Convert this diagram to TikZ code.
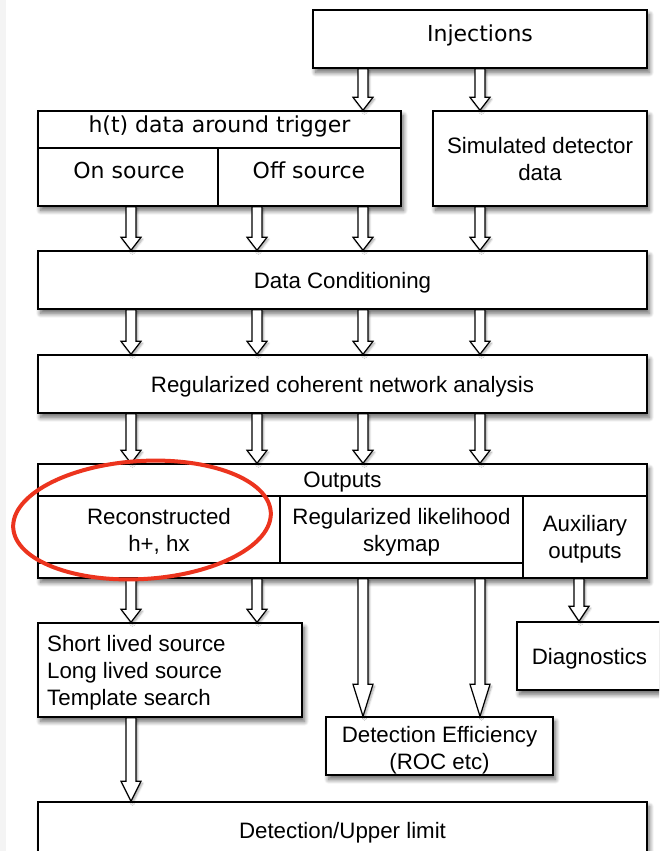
\documentclass[tikz,border=0pt]{standalone}
\usepackage{fontspec}
\setmainfont{Liberation Sans}
\newfontfamily\hira{DejaVu Sans}
\usetikzlibrary{calc,shadows.blur}
\definecolor{ellred}{RGB}{236,52,30}
\definecolor{stripgray}{RGB}{244,244,244}
\begin{document}
\begin{tikzpicture}[x=1pt,y=-1pt,
 shd/.style={blur shadow={shadow xshift=2.5pt,shadow yshift=-4.5pt,shadow blur radius=4.5pt,shadow blur steps=12,shadow opacity=60}},
 ashd/.style={blur shadow={shadow xshift=1.5pt,shadow yshift=-2pt,shadow blur radius=2pt,shadow blur steps=6,shadow opacity=35}},
 box/.style={draw=black,line width=1.4pt,fill=white,inner sep=0pt,align=center,text depth=0pt,font=\fontsize{22.3}{27}\selectfont},
 txt/.style={inner sep=0pt,align=center,text depth=0pt,font=\fontsize{22.3}{27}\selectfont},
 htxt/.style={inner sep=0pt,text depth=0pt,font=\hira\fontsize{22}{27}\selectfont},
 blk/.style={draw=black,line width=1.2pt,fill=white,ashd,
   to path={let \p1=(\tikztostart),\p2=(\tikztotarget) in
     (\x1-5pt,\y1) -- (\x1-5pt,\y2+#1) -- (\x1-10pt,\y2+#1) -- (\x1,\y2) -- (\x1+10pt,\y2+#1) -- (\x1+5pt,\y2+#1) -- (\x1+5pt,\y1) -- cycle}},
 blk/.default=13pt,
]
\useasboundingbox (0,0) rectangle (659,851);
\clip (0,0) rectangle (659,851);
\fill[stripgray] (0,0) rectangle (6,851);

\coordinate (c1) at (131,0);
\coordinate (c2) at (257,0);
\coordinate (c3) at (363,0);
\coordinate (c4) at (480,0);
\coordinate (c5) at (579,0);

% top boxes
\node[box,shd,minimum width=334pt,minimum height=58pt] (inj) at (480,39) {};
\node[htxt] (injt) at (480,33) {Injections};

\node[box,shd,minimum width=363pt,minimum height=95pt] (ht) at (219.5,158.5) {};
\node[box,minimum width=180pt,minimum height=58pt] (on) at (128,177) {};
\node[box,minimum width=183pt,minimum height=58pt] (off) at (309.5,177) {};
\node[htxt] (htt) at (219.5,124) {h(t) data around trigger};
\node[htxt] (ont) at (129,170) {On source};
\node[htxt] (offt) at (309,170) {Off source};

\node[box,shd,minimum width=214pt,minimum height=95pt] (sim) at (540,158.5) {Simulated detector\\data};

\node[box,shd,minimum width=609pt,minimum height=58pt] (dc) at (342.5,280) {Data Conditioning};
\node[box,shd,minimum width=609pt,minimum height=58pt] (rcna) at (342.5,384) {Regularized coherent network analysis};

% outputs
\node[box,shd,minimum width=609pt,minimum height=114pt] (out) at (342.5,521) {};
\node[txt] (outt) at (342.5,480) {Outputs};
\node[box,minimum width=242pt,minimum height=67pt] (rec) at (159,529.5) {Reconstructed\\h+, hx};
\node[box,minimum width=243pt,minimum height=67pt] (reg) at (401.5,529.5) {Regularized likelihood\\skymap};
\node[box,minimum width=124pt,minimum height=82pt] (aux) at (585,537) {Auxiliary\\outputs};

% lower boxes
\node[box,shd,minimum width=264pt,minimum height=94pt] (sls) at (170,670) {};
\node[txt,align=left,anchor=west] (slst) at (47,670.5) {Short lived source\\Long lived source\\Template search};
\node[box,shd,minimum width=145pt,minimum height=68pt] (diag) at (589.5,656) {Diagnostics};
\node[box,shd,minimum width=227pt,minimum height=58pt] (deff) at (439.5,746) {};
\node[txt] (defft) at (439.5,747.5) {Detection Efficiency\\(ROC etc)};
\node[box,shd,minimum width=609pt,minimum height=56pt] (dul) at (342.5,830) {Detection/Upper limit};

% arrows
\draw[blk] (inj.south -| c3) to (ht.north -| c3);
\draw[blk] (inj.south -| c4) to (sim.north -| c4);

\draw[blk] (on.south -| c1) to (dc.north -| c1);
\draw[blk] (off.south -| c2) to (dc.north -| c2);
\draw[blk] (off.south -| c3) to (dc.north -| c3);
\draw[blk] (sim.south -| c4) to (dc.north -| c4);

\draw[blk] (dc.south -| c1) to (rcna.north -| c1);
\draw[blk] (dc.south -| c2) to (rcna.north -| c2);
\draw[blk] (dc.south -| c3) to (rcna.north -| c3);
\draw[blk] (dc.south -| c4) to (rcna.north -| c4);

\draw[blk] (rcna.south -| c1) to (out.north -| c1);
\draw[blk] (rcna.south -| c2) to (out.north -| c2);
\draw[blk] (rcna.south -| c3) to (out.north -| c3);
\draw[blk] (rcna.south -| c4) to (out.north -| c4);

\draw[blk] (out.south -| c1) to (sls.north -| c1);
\draw[blk] (out.south -| c2) to (sls.north -| c2);
\draw[blk=32pt] (out.south -| c3) to (deff.north -| c3);
\draw[blk=32pt] (out.south -| c4) to (deff.north -| c4);
\draw[blk=15pt] (aux.south -| c5) to (diag.north -| c5);
\draw[blk=20pt] (sls.south -| c1) to (dul.north -| c1);

% highlight
\draw[ellred,line width=4pt,rotate around={3.5:(142,520)}] (142,520) ellipse [x radius=129pt,y radius=59pt];
\end{tikzpicture}
\end{document}
